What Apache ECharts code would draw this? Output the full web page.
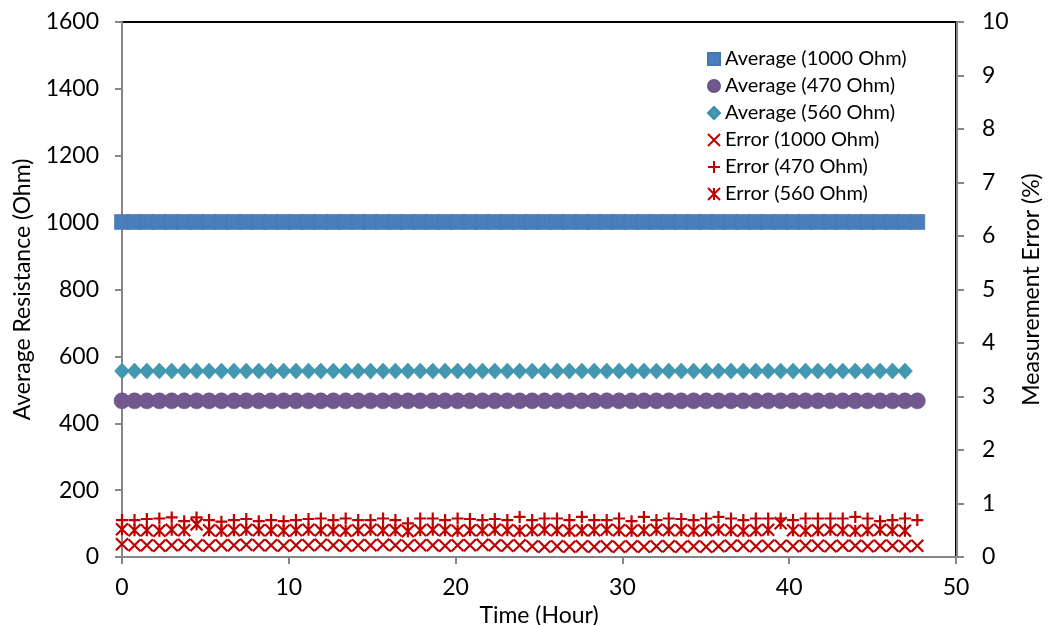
<!DOCTYPE html>
<html>
<head>
<meta charset="utf-8">
<script src="https://cdn.jsdelivr.net/npm/echarts@6/dist/echarts.min.js"></script>
<style>
html,body{margin:0;padding:0;background:#fff;}
#chart{width:1049px;height:625px;}
</style>
</head>
<body>
<div id="chart"></div>
<script>
// Time (Hour)
var timeHours = [0, 0.75, 1.49, 2.24, 2.98, 3.73, 4.47, 5.22, 5.96, 6.71, 7.45, 8.20, 8.94, 9.69, 10.43, 11.18, 11.92, 12.67, 13.41, 14.16, 14.90, 15.65, 16.39, 17.14, 17.88, 18.63, 19.37, 20.12, 20.86, 21.61, 22.35, 23.10, 23.84, 24.59, 25.33, 26.08, 26.82, 27.57, 28.31, 29.06, 29.80, 30.55, 31.29, 32.04, 32.78, 33.53, 34.27, 35.02, 35.76, 36.51, 37.25, 38.00, 38.74, 39.49, 40.23, 40.98, 41.72, 42.47, 43.21, 43.96, 44.70, 45.45, 46.19, 46.94, 47.68];

// Average resistance (Ohm)
var avg1000 = [1002,1002,1002,1002,1002,1002,1002,1002,1002,1002,1002,1002,1002,1002,1002,1002,1002,1002,1002,1002,1002,1002,1002,1002,1002,1002,1002,1002,1002,1002,1002,1002,1002,1002,1002,1002,1002,1002,1002,1002,1002,1002,1002,1002,1002,1002,1002,1002,1002,1002,1002,1002,1002,1002,1002,1002,1002,1002,1002,1002,1002,1002,1002,1002,1002];
var avg470 = [467,467,467,467,467,467,467,467,467,467,467,467,467,467,467,467,467,467,467,467,467,467,467,467,467,467,467,467,467,467,467,467,467,467,467,467,467,467,467,467,467,467,467,467,467,467,467,467,467,467,467,467,467,467,467,467,467,467,467,467,467,467,467,467,467];
var avg560 = [556,556,556,556,556,556,556,556,556,556,556,556,556,556,556,556,556,556,556,556,556,556,556,556,556,556,556,556,556,556,556,556,556,556,556,556,556,556,556,556,556,556,556,556,556,556,556,556,556,556,556,556,556,556,556,556,556,556,556,556,556,556,556,556];

// Measurement error (%)
var err1000 = [0.24,0.22,0.22,0.21,0.22,0.23,0.22,0.21,0.22,0.22,0.23,0.22,0.22,0.21,0.22,0.22,0.23,
  0.22,0.21,0.22,0.22,0.23,0.22,0.21,0.22,0.22,0.21,0.22,0.22,0.23,0.22,0.21,0.22,
  0.20,0.19,0.20,0.19,0.20,0.19,0.20,0.19,0.20,0.19,0.20,0.20,0.19,0.20,0.19,0.20,
  0.21,0.21,0.20,0.21,0.21,0.20,0.21,0.21,0.20,0.21,0.21,0.20,0.21,0.21,0.20,0.21];
var err470 = [0.69,0.69,0.71,0.72,0.74,0.67,0.74,0.69,0.66,0.69,0.71,0.67,0.69,0.67,0.69,0.71,0.72,
  0.69,0.72,0.69,0.69,0.72,0.69,0.63,0.72,0.72,0.69,0.72,0.71,0.69,0.71,0.69,0.75,
  0.69,0.72,0.72,0.69,0.75,0.69,0.69,0.72,0.67,0.75,0.69,0.72,0.71,0.69,0.72,0.75,
  0.72,0.69,0.72,0.72,0.72,0.69,0.72,0.72,0.72,0.72,0.75,0.72,0.67,0.69,0.72,0.69];
var err560 = [0.52,0.50,0.50,0.49,0.51,0.50,0.61,0.50,0.49,0.50,0.51,0.50,0.50,0.49,0.50,0.51,0.50,
  0.50,0.49,0.50,0.51,0.50,0.50,0.48,0.50,0.51,0.50,0.49,0.50,0.50,0.51,0.50,0.49,
  0.50,0.51,0.50,0.49,0.50,0.50,0.51,0.50,0.49,0.50,0.51,0.50,0.50,0.49,0.50,0.51,
  0.50,0.49,0.50,0.51,0.63,0.50,0.49,0.50,0.51,0.50,0.49,0.50,0.51,0.50,0.49];

var seriesNames = ['Average (1000 Ohm)','Average (470 Ohm)','Average (560 Ohm)','Error (1000 Ohm)','Error (470 Ohm)','Error (560 Ohm)'];

function pairs(vals){ return vals.map(function(v,i){ return [timeHours[i], v]; }); }

var FONT = 'Lato';
var AXIS_GRAY = '#868686';
var RED = '#C00000';

var chart = echarts.init(document.getElementById('chart'), null, {renderer:'canvas'});

var axisCommon = {
  axisLine:{show:true, lineStyle:{color:AXIS_GRAY, width:2}},
  axisTick:{show:true, inside:false, length:7, lineStyle:{color:AXIS_GRAY, width:2}},
  splitLine:{show:false},
  axisLabel:{color:'#000', fontFamily:FONT, fontSize:23, formatter:function(v){ return String(v); }},
  nameTextStyle:{color:'#000', fontFamily:FONT, fontSize:23}
};

function errSeries(name, vals, path){
  return {
    name:name, type:'scatter', yAxisIndex:1, data:pairs(vals),
    symbol:path, symbolSize:12,
    itemStyle:{color:'rgba(0,0,0,0)', borderColor:RED, borderWidth:2.2, opacity:1},
    silent:true, emphasis:{disabled:true}
  };
}

chart.setOption({
  animation:false,
  backgroundColor:'#fff',
  grid:{left:122, right:93, top:22, bottom:68, show:true, borderColor:'#000', borderWidth:2,
        backgroundColor:'transparent', containLabel:false, outerBoundsMode:'none'},
  legend:{
    orient:'vertical', left:702, top:44, itemWidth:12, itemHeight:12, itemGap:7,
    textStyle:{fontFamily:FONT, fontSize:20, color:'#000'},
    data:seriesNames
  },
  xAxis:Object.assign({}, axisCommon, {
    type:'value', min:0, max:50, interval:10,
    name:'Time (Hour)', nameLocation:'middle', nameGap:32,
    axisLabel:Object.assign({}, axisCommon.axisLabel, {margin:19})
  }),
  yAxis:[
    Object.assign({}, axisCommon, {
      type:'value', min:0, max:1600, interval:200, position:'left',
      name:'Average Resistance (Ohm)', nameLocation:'middle', nameGap:88, nameRotate:90,
      axisLabel:Object.assign({}, axisCommon.axisLabel, {margin:23})
    }),
    Object.assign({}, axisCommon, {
      type:'value', min:0, max:10, interval:1, position:'right', offset:1,
      name:'Measurement Error (%)', nameLocation:'middle', nameGap:60, nameRotate:90,
      axisLabel:Object.assign({}, axisCommon.axisLabel, {margin:25})
    })
  ],
  series:[
    {name:seriesNames[0], type:'scatter', yAxisIndex:0, data:pairs(avg1000), symbol:'rect', symbolSize:15,
     itemStyle:{color:'#4A7EBB', borderColor:'#4476B0', borderWidth:0.6, opacity:1}, silent:true},
    {name:seriesNames[1], type:'scatter', yAxisIndex:0, data:pairs(avg470), symbol:'circle', symbolSize:16,
     itemStyle:{color:'#71588F', borderColor:'#6A5387', borderWidth:0.6, opacity:1}, silent:true},
    {name:seriesNames[2], type:'scatter', yAxisIndex:0, data:pairs(avg560), symbol:'diamond', symbolSize:[15,16],
     itemStyle:{color:'#4198B0', borderColor:'#3C90A7', borderWidth:0.6, opacity:1}, silent:true},
    errSeries(seriesNames[3], err1000, 'path://M0,0L10,10M0,10L10,0'),
    errSeries(seriesNames[4], err470, 'path://M5,0L5,10M0,5L10,5'),
    errSeries(seriesNames[5], err560, 'path://M0,0L10,10M0,10L10,0M5,0L5,10')
  ]
});
</script>
</body>
</html>
